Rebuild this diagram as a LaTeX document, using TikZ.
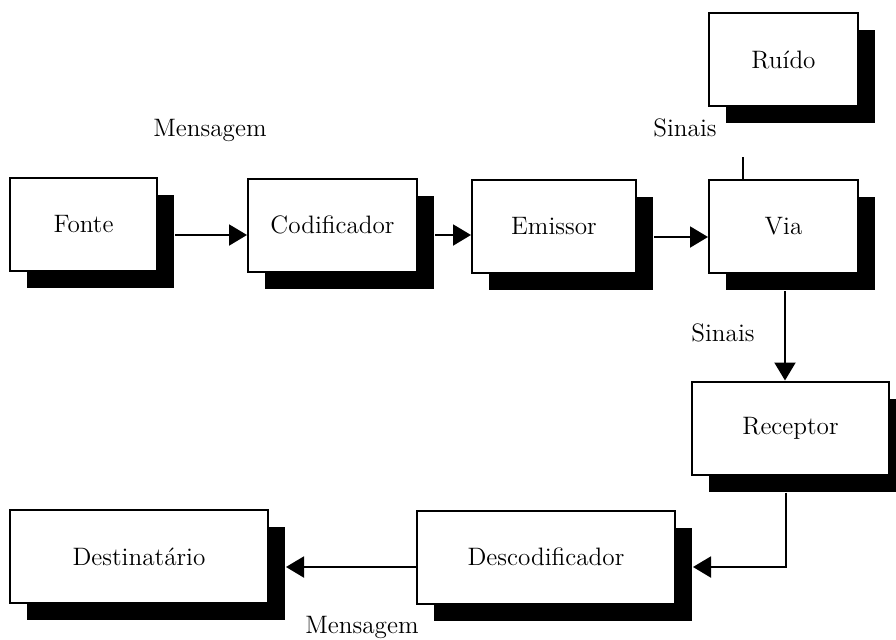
\documentclass[tikz,border=0pt]{standalone}
\usetikzlibrary{arrows.meta,shadows}
\tikzset{
  bloco/.style={draw, line width=1pt, fill=white, inner sep=0pt,
    minimum height=46.5pt,
    drop shadow={shadow xshift=8.5pt, shadow yshift=-8.5pt, fill=black, opacity=1}},
  seta/.style={line width=1pt, -{Triangle[length=9pt,width=10.5pt]}}
}

\begin{document}
\begin{tikzpicture}[x=0.5pt, y=-0.5pt, font=\fontsize{12.6}{15}\selectfont]
	%%%%% START %%%%%
	\useasboundingbox (0,0) rectangle (896,639);
	
	\node[bloco, minimum width=73.5pt] (fonte) at (83.5,224) {Fonte};
	\node[bloco, minimum width=84.5pt] (codif) at (332.5,225) {Codificador};
	\node[bloco, minimum width=82pt] (emissor) at (554,226.5) {Emissor};
	\node[bloco, minimum width=74.5pt] (via) at (783.5,226.5) {Via};
	\node[bloco, minimum width=74.5pt] (ruido) at (783.5,59.5) {Ruído};
	\node[bloco, minimum width=98.5pt] (receptor) at (790.5,428) {Receptor};
	\node[bloco, minimum width=129pt] (descod) at (546,557) {Descodificador};
	\node[bloco, minimum width=129pt] (destino) at (139,556.5) {Destinatário};
	
	\node (msg1) at (210,130) {Mensagem};
	\node (sin1) at (685,128) {Sinais};
	\node (sin2) at (723,333) {Sinais};
	\node (msg2) at (362,627) {Mensagem};
	
	\draw[seta] ([shift={(17,11)}]fonte.east) coordinate (s1) -- (s1 -| codif.west);
	\draw[seta] ([shift={(17,10)}]codif.east) coordinate (s2) -- (s2 -| emissor.west);
	\draw[seta] ([shift={(17,10.5)}]emissor.east) coordinate (s3) -- (s3 -| via.west);
	
	\coordinate (ruidoPe) at (743,157);
	\draw[line width=1pt] (ruidoPe) -- (ruidoPe |- via.north);
	
	\draw[seta] ([shift={(1.5,17)}]via.south) coordinate (s4) -- (s4 |- receptor.north);
	\draw[seta] ([shift={(-4.5,17)}]receptor.south) |- ([shift={(17,10)}]descod.east);
	\draw[seta] ([shift={(0,10)}]descod.west) -- ([shift={(17,10.5)}]destino.east);
	
	%%%%% END %%%%%
\end{tikzpicture}
\end{document}
